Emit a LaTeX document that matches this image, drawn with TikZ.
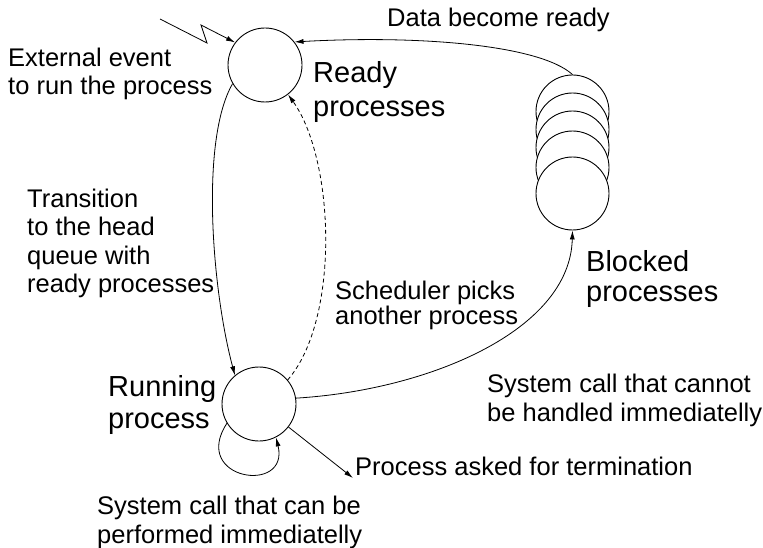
\documentclass[tikz,border=0pt]{standalone}
\usepackage{fontspec}
\setmainfont{Liberation Sans}
\usetikzlibrary{arrows.meta}
\begin{document}
\begin{tikzpicture}[x=1pt,y=-1pt,
  state/.style={circle,draw,line width=0.9pt,minimum size=74pt,inner sep=0pt,fill=white},
  conn/.style={line width=0.8pt,-{Latex[length=9pt,width=5pt]}},
  dashconn/.style={conn,dash pattern=on 4pt off 3pt},
  small/.style={anchor=north west,inner sep=0pt,align=left,font=\fontsize{25.5}{28.5}\selectfont},
  big/.style={anchor=north west,inner sep=0pt,align=left,font=\fontsize{29}{33}\selectfont}]
\useasboundingbox (0,0) rectangle (763,548);

% states
\node[state] (ready) at (265,65) {};
\node[state] (running) at (259,404) {};
\node[state,minimum size=73pt] (b1) at (572.5,111.5) {};
\node[state,minimum size=73pt] (b2) at (572.5,129.5) {};
\node[state,minimum size=73pt] (b3) at (572.5,147.5) {};
\node[state,minimum size=73pt] (b4) at (572.5,167.5) {};
\node[state,minimum size=73pt] (b5) at (572.5,193.5) {};

% labels
\node[small] (ext) at (8,47.7) {External event\\to run the process};
\node[small] (data) at (387,7.7) {Data become ready};
\node[big,font=\fontsize{29}{34}\selectfont] (readyl) at (313,61.2) {Ready\\processes};
\node[small] (trans) at (27,188.7) {Transition\\to the head\\queue with\\ready processes};
\node[small,font=\fontsize{25.5}{23.5}\selectfont] (sched) at (335,280.7) {Scheduler picks\\another process};
\node[big,font=\fontsize{29}{30}\selectfont] (blockl) at (586,250.2) {Blocked\\processes};
\node[big,font=\fontsize{29}{32}\selectfont] (runl) at (108,375.2) {Running\\process};
\node[small,font=\fontsize{25.5}{29}\selectfont] (cannot) at (487,373.7) {System call that cannot\\be handled immediatelly};
\node[small] (term) at (355,456.7) {Process asked for termination};
\node[small,font=\fontsize{25.5}{29}\selectfont] (can) at (97,495.7) {System call that can be\\performed immediatelly};

% free ends
\coordinate (evt) at (160,19);
\coordinate (z1) at (207,43);
\coordinate (z2) at (201,25);
\coordinate (termend) at (353,478);

% connectors
\draw[conn] (evt) -- (z1) -- (z2) -- (ready.143);
\draw[conn] (b1.north) .. controls (540,45) and (420,35) .. (ready.38);
\draw[conn] (ready.210) .. controls (200,140) and (212,290) .. (running.130);
\draw[dashconn] (running.40) .. controls (340,320) and (335,160) .. (ready.-52);
\draw[conn] (running.9) .. controls (430,390) and (570,330) .. (b5.south);
\draw[conn] (running.-38) -- (termend);
\draw[conn] (running.211) .. controls (190,480) and (290,495) .. (running.-63);
\end{tikzpicture}
\end{document}
